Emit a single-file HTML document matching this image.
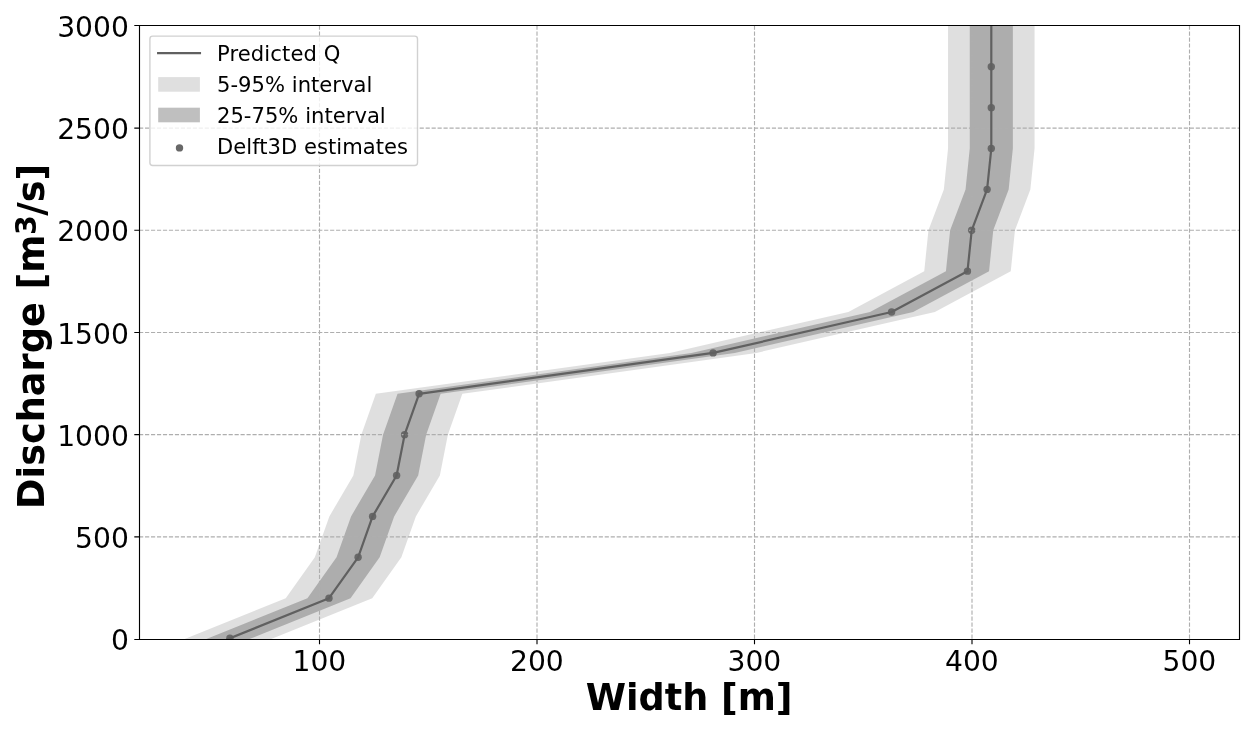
<!DOCTYPE html>
<html lang="en"><head><meta charset="utf-8"><title>Discharge vs Width</title>
<style>html,body{margin:0;padding:0;background:#fff;overflow:hidden}svg{display:block}text{font-family:'DejaVu Sans','Liberation Sans',sans-serif;fill:#000}</style></head><body>
<svg width="1259" height="730" viewBox="0 0 1259 730">
<rect width="1259" height="730" fill="#fff"/>
<defs><clipPath id="ax"><rect x="139.50" y="25.5" width="1100.00" height="614"/></clipPath></defs>
<g clip-path="url(#ax)">
<polygon points="183.44,639.60 285.75,598.17 314.85,557.30 329.35,516.42 353.35,475.54 361.35,434.67 375.85,393.79 669.85,352.91 848.35,312.04 924.25,271.16 928.45,230.28 943.85,189.41 948.05,148.53 948.05,107.65 948.05,66.78 948.05,25.00 1034.55,25.00 1034.55,66.78 1034.55,107.65 1034.55,148.53 1030.35,189.41 1014.95,230.28 1010.75,271.16 934.85,312.04 756.35,352.91 462.35,393.79 447.85,434.67 439.85,475.54 415.85,516.42 401.35,557.30 372.25,598.17 269.94,639.60" fill="#808080" fill-opacity="0.25"/>
<polygon points="205.14,639.60 307.45,598.17 336.55,557.30 351.05,516.42 375.05,475.54 383.05,434.67 397.55,393.79 691.55,352.91 870.05,312.04 945.95,271.16 950.15,230.28 965.55,189.41 969.75,148.53 969.75,107.65 969.75,66.78 969.75,25.00 1012.85,25.00 1012.85,66.78 1012.85,107.65 1012.85,148.53 1008.65,189.41 993.25,230.28 989.05,271.16 913.15,312.04 734.65,352.91 440.65,393.79 426.15,434.67 418.15,475.54 394.15,516.42 379.65,557.30 350.55,598.17 248.24,639.60" fill="#808080" fill-opacity="0.53"/>
<circle cx="229.90" cy="638.30" r="3.7" fill="#686868"/>
<circle cx="329.00" cy="598.17" r="3.7" fill="#686868"/>
<circle cx="358.10" cy="557.30" r="3.7" fill="#686868"/>
<circle cx="372.60" cy="516.42" r="3.7" fill="#686868"/>
<circle cx="396.60" cy="475.54" r="3.7" fill="#686868"/>
<circle cx="404.60" cy="434.67" r="3.7" fill="#686868"/>
<circle cx="419.10" cy="393.79" r="3.7" fill="#686868"/>
<circle cx="713.10" cy="352.91" r="3.7" fill="#686868"/>
<circle cx="891.60" cy="312.04" r="3.7" fill="#686868"/>
<circle cx="967.50" cy="271.16" r="3.7" fill="#686868"/>
<circle cx="971.70" cy="230.28" r="3.7" fill="#686868"/>
<circle cx="987.10" cy="189.41" r="3.7" fill="#686868"/>
<circle cx="991.30" cy="148.53" r="3.7" fill="#686868"/>
<circle cx="991.30" cy="107.65" r="3.7" fill="#686868"/>
<circle cx="991.30" cy="66.78" r="3.7" fill="#686868"/>
<path d="M319.50 644.6V25.5M537.00 644.6V25.5M754.50 644.6V25.5M972.00 644.6V25.5M1189.50 644.6V25.5M139.06 536.86H1239.50M139.06 434.67H1239.50M139.06 332.47H1239.50M139.06 230.28H1239.50M139.06 128.09H1239.50" fill="none" stroke="#aeaeae" stroke-width="1.13" stroke-dasharray="4.17 1.8"/>
<polyline points="226.69,639.60 329.00,598.17 358.10,557.30 372.60,516.42 396.60,475.54 404.60,434.67 419.10,393.79 713.10,352.91 891.60,312.04 967.50,271.16 971.70,230.28 987.10,189.41 991.30,148.53 991.30,107.65 991.30,66.78 991.30,25.00" fill="none" stroke="#606060" stroke-width="2.2" stroke-linejoin="round"/>
</g>
<path d="M319.50 639.5v4.8M537.00 639.5v4.8M754.50 639.5v4.8M972.00 639.5v4.8M1189.50 639.5v4.8M139.50 639.50h-5.2M139.50 536.86h-5.2M139.50 434.67h-5.2M139.50 332.47h-5.2M139.50 230.28h-5.2M139.50 128.09h-5.2M139.50 25.50h-5.2" fill="none" stroke="#000" stroke-width="1.11"/>
<path d="M138.94 25.5H1240.06M138.94 639.5H1240.06M139.5 25.5V640.06M1239.5 25.5V640.06" fill="none" stroke="#000" stroke-width="1.13"/>
<text x="319.40" y="670.8" font-size="28.2" text-anchor="middle">100</text>
<text x="536.90" y="670.8" font-size="28.2" text-anchor="middle">200</text>
<text x="754.40" y="670.8" font-size="28.2" text-anchor="middle">300</text>
<text x="971.90" y="670.8" font-size="28.2" text-anchor="middle">400</text>
<text x="1189.40" y="670.8" font-size="28.2" text-anchor="middle">500</text>
<text x="128.9" y="650.15" font-size="28.2" text-anchor="end">0</text>
<text x="128.9" y="547.96" font-size="28.2" text-anchor="end">500</text>
<text x="128.9" y="445.77" font-size="28.2" text-anchor="end">1000</text>
<text x="128.9" y="343.57" font-size="28.2" text-anchor="end">1500</text>
<text x="128.9" y="241.38" font-size="28.2" text-anchor="end">2000</text>
<text x="128.9" y="139.19" font-size="28.2" text-anchor="end">2500</text>
<text x="128.9" y="37.00" font-size="28.2" text-anchor="end">3000</text>
<text x="689.1" y="709.5" font-size="36.6" font-weight="bold" text-anchor="middle">Width [m]</text>
<text transform="translate(43.9 508.9) rotate(-90)" font-size="36.7" font-weight="bold">Discharge [m<tspan x="274" dy="-7.9" font-size="28.5">3</tspan><tspan x="293.2" dy="7.9">/s]</tspan></text>
<rect x="149.9" y="36.1" width="267.6" height="129.4" rx="2.8" ry="2.8" fill="#fff" fill-opacity="0.8" stroke="#ccc" stroke-opacity="0.9" stroke-width="1.39"/>
<line x1="158.2" y1="53.1" x2="199.9" y2="53.1" stroke="#606060" stroke-width="2.3" stroke-linecap="square"/>
<rect x="158.2" y="77.1" width="41.7" height="14.6" fill="#808080" fill-opacity="0.25"/>
<rect x="158.2" y="107.7" width="41.7" height="14.6" fill="#808080" fill-opacity="0.5"/>
<circle cx="179.5" cy="147.9" r="3.7" fill="#686868"/>
<text x="217.0" y="61.00" font-size="21.1" textLength="123.4" lengthAdjust="spacing">Predicted Q</text>
<text x="217.0" y="92.00" font-size="21.1" textLength="155.4" lengthAdjust="spacing">5-95% interval</text>
<text x="217.0" y="123.00" font-size="21.1" textLength="168.7" lengthAdjust="spacing">25-75% interval</text>
<text x="217.0" y="153.60" font-size="21.1" textLength="191.0" lengthAdjust="spacing">Delft3D estimates</text>
</svg></body></html>
